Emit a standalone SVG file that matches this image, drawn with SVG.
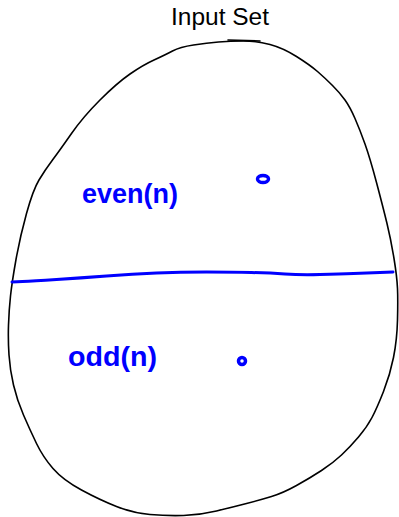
<svg xmlns="http://www.w3.org/2000/svg" width="399" height="517" viewBox="0 0 399 517">
<style>
.outline{fill:none;stroke:#000;stroke-width:1.6;stroke-linejoin:round;stroke-linecap:round}
.blue{fill:none;stroke:#0000ff;stroke-width:3;stroke-linecap:round;stroke-linejoin:round}
.dot{fill:none;stroke:#0000ff;stroke-width:3.5}
.lbl{font-family:"Liberation Sans",Arial,sans-serif;fill:#0000ff;font-weight:bold}
.title{font-family:"Liberation Sans",Arial,sans-serif;fill:#000;font-weight:normal}
</style>
<rect width="399" height="517" fill="#fff"/>
<g id="title">
<text class="title" x="171" y="25" font-size="23" textLength="98" lengthAdjust="spacingAndGlyphs">Input Set</text>
</g>
<g id="input-set">
<path class="outline" d="M193.5,45 Q207,43 218.5,42 Q230,41 243.5,41 Q257,41 270,44.5 Q283,48 296.5,56.5 Q310,65 317.5,71.5 Q325,78 332.5,85.5 Q340,93 345,100 Q350,107 355,118.5 Q360,130 365,144 Q370,158 376.5,182.5 Q383,207 387,223.5 Q391,240 394,258.5 Q397,277 397.5,288.5 Q398,300 397.5,320 Q397,340 393.5,357.5 Q390,375 383.5,391.5 Q377,408 372,417.5 Q367,427 358.5,437 Q350,447 341.5,455 Q333,463 321.5,470.5 Q310,478 296.5,485.5 Q283,493 271.5,496.5 Q260,500 246.5,503.5 Q233,507 216.5,511 Q200,515 183.5,515.5 Q167,516 150,514.5 Q133,513 116.5,506.5 Q100,500 81.5,490 Q63,480 53,468.5 Q43,457 36.5,443.5 Q30,430 23.5,415 Q17,400 13.5,385 Q10,370 9,355 Q8,340 8.5,325 Q9,310 10.5,296 Q12,282 16,259.5 Q20,237 26.5,213.5 Q33,190 39,180 Q45,170 52.5,160 Q60,150 71.5,133.5 Q83,117 100,100 Q117,83 130,74 Q143,65 154,60 Q165,55 172.5,51 Q180,47 193.5,45 Z"/>
<path class="outline" d="M228,40 L260,41"/>
</g>
<g id="divider">
<path class="blue" d="M12,282 L22.5,281.5 Q33,281 56.5,279.5 Q80,278 106.5,276 Q133,274 156.5,273 Q180,272 206.5,272 Q233,272 251.5,272.5 Q270,273 285,274 Q300,275 320,274.5 Q340,274 353.5,273.5 Q367,273 380,272.5 L393,272"/>
</g>
<g id="even">
<text class="lbl" x="82" y="203" font-size="28" textLength="96" lengthAdjust="spacingAndGlyphs">even(n)</text>
<ellipse class="dot" cx="263" cy="179" rx="5.5" ry="3.5"/>
</g>
<g id="odd">
<text class="lbl" x="68" y="366" font-size="28" textLength="89" lengthAdjust="spacingAndGlyphs">odd(n)</text>
<circle class="dot" cx="242" cy="361" r="3.5"/>
</g>
</svg>
